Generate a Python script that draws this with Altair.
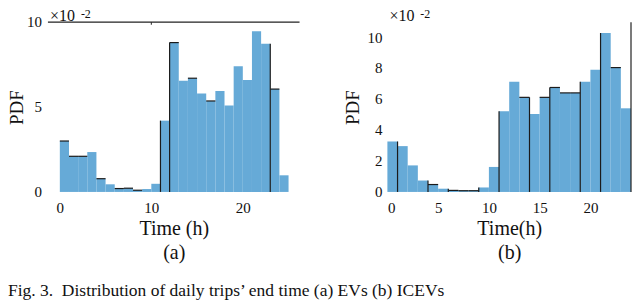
import altair as alt
import pandas as pd

BLUE = "#66aad7"
EDGE = "#1b1b1b"
FONT = "Liberation Serif"

# ---- Panel (a): EVs, PDF in units of 1e-2, one-hour bins starting at hour_a
hour_a = list(range(25))
pdf_a = [3.0, 2.1, 2.1, 2.35, 0.78, 0.45, 0.2, 0.22, 0.1, 0.17, 0.48, 4.2, 8.8,
         6.55, 6.7, 5.8, 5.36, 5.95, 5.1, 7.4, 6.6, 9.47, 8.73, 6.06, 0.98]
top_edges_a = [0, 1, 2, 4, 6, 7, 8, 12, 14, 16, 23]
side_edges_a = [11, 12, 23]
x_ticks_a = [0, 10, 20]
y_ticks_a = [0, 5, 10]

# ---- Panel (b): ICEVs
hour_b = list(range(24))
pdf_b = [3.27, 2.97, 1.72, 0.74, 0.48, 0.21, 0.1, 0.08, 0.08, 0.29, 1.62, 5.23,
         7.14, 6.13, 5.05, 6.13, 6.77, 6.42, 6.42, 7.14, 7.92, 10.3, 8.06, 5.42]
top_edges_b = [4, 6, 7, 8, 13, 15, 16, 17, 18, 22]
side_edges_b = [1, 4, 6, 9, 11, 14, 16, 19, 21]
x_ticks_b = [0, 5, 10, 15, 20]
y_ticks_b = [0, 2, 4, 6, 8, 10]

caption = "Fig. 3.\u00a0 Distribution of daily trips\u2019 end time (a) EVs (b) ICEVs"


def panel(hours, pdf, tops, sides, xdom, ydom, xt, yt, xtitle, sub, w, h,
          frame, ylab_pad, ytitle_pad, caption_text=None):
    df = pd.DataFrame({"h0": hours, "h1": [v + 1 for v in hours], "pdf": pdf,
                       "zero": [0.0] * len(hours)})
    xs = alt.Scale(domain=xdom, nice=False, zero=False)
    ys = alt.Scale(domain=ydom, nice=False, zero=False)
    xax = alt.Axis(values=xt, title=[xtitle, sub], titleLineHeight=24,
                   labelPadding=9, titlePadding=3, domain=False, ticks=False,
                   grid=False, labelFontSize=15, titleFontSize=20,
                   labelOverlap=False)
    yax = alt.Axis(values=yt, title="PDF", labels=False,
                   titlePadding=ytitle_pad, domain=False, ticks=False,
                   grid=False, titleFontSize=19)
    bars = alt.Chart(df).mark_rect(color=BLUE).encode(
        x=alt.X("h0:Q", scale=xs, axis=xax),
        x2="h1:Q",
        y=alt.Y("pdf:Q", scale=ys, axis=yax),
        y2="zero:Q",
    )
    tdf = df[df["h0"].isin(tops)]
    top_rules = alt.Chart(tdf).mark_rule(color=EDGE, strokeWidth=1.2).encode(
        x="h0:Q", x2="h1:Q", y="pdf:Q")
    sdf = pd.DataFrame({
        "x": sides,
        "pdf": [max(pdf[s - 1], pdf[s]) if s < len(pdf) else pdf[s - 1] for s in sides],
        "zero": [0.0] * len(sides),
    })
    side_rules = alt.Chart(sdf).mark_rule(color=EDGE, strokeWidth=1.2).encode(
        x="x:Q", y="pdf:Q", y2="zero:Q")
    # y tick labels, placed by the y scale
    ydf = pd.DataFrame({"pdf": yt, "lab": [str(v) for v in yt]})
    ylabels = alt.Chart(ydf).mark_text(
        font=FONT, fontSize=15, align="right", baseline="middle", color="#111"
    ).encode(y="pdf:Q", text="lab:N", x=alt.value(-ylab_pad))
    layers = [bars, top_rules, side_rules, ylabels]
    if frame == "top":
        fdf = pd.DataFrame({"x0": [xdom[0]], "x1": [xdom[1]], "pdf": [ydom[1]],
                            "tx": [10.0], "ty": [ydom[1] - 0.15]})
        layers.append(alt.Chart(fdf).mark_rule(color="#222", strokeWidth=1.2).encode(
            x="x0:Q", x2="x1:Q", y="pdf:Q"))
        layers.append(alt.Chart(fdf).mark_rule(color="#222", strokeWidth=1).encode(
            x="tx:Q", y="pdf:Q", y2="ty:Q"))
    else:
        fdf = pd.DataFrame({"x": [xdom[1]], "pdf": [ydom[0]], "y1": [ydom[1]]})
        layers.append(alt.Chart(fdf).mark_rule(color="#222", strokeWidth=1.2).encode(
            x="x:Q", y="pdf:Q", y2="y1:Q"))
    ann = pd.DataFrame({"t": ["\u00d710"], "s": ["-2"]})
    layers.append(alt.Chart(ann).mark_text(
        font=FONT, fontSize=16, align="left", baseline="alphabetic", color="#111"
    ).encode(text="t:N", x=alt.value(2), y=alt.value(-1)))
    layers.append(alt.Chart(ann).mark_text(
        font=FONT, fontSize=12, align="left", baseline="alphabetic", color="#111"
    ).encode(text="s:N", x=alt.value(33), y=alt.value(-4)))
    if caption_text:
        cdf = pd.DataFrame({"c": [caption_text]})
        layers.append(alt.Chart(cdf).mark_text(
            font=FONT, fontSize=17.5, align="left", baseline="alphabetic", color="#111"
        ).encode(text="c:N", x=alt.value(-40), y=alt.value(274)))
    return alt.layer(*layers).properties(width=w, height=h)


pa = panel(hour_a, pdf_a, top_edges_a, side_edges_a, [-1.3, 26.2], [0, 10],
           x_ticks_a, y_ticks_a, "Time (h)", "(a)", 252, 170, "top", 6, 21,
           caption)
pb = panel(hour_b, pdf_b, top_edges_b, side_edges_b, [0, 24], [0, 11.0],
           x_ticks_b, y_ticks_b, "Time(h)", "(b)", 244, 170, "right", 5, 25)

chart = alt.hconcat(pa, pb, spacing=88, bounds="flush").properties(
    padding=0, background="white"
).configure_view(stroke=None).configure_axis(
    labelFont=FONT, titleFont=FONT, labelColor="#111", titleColor="#111",
    titleFontWeight="normal"
)

chart.save("out.html", embed_options={"renderer": "svg", "actions": False})
